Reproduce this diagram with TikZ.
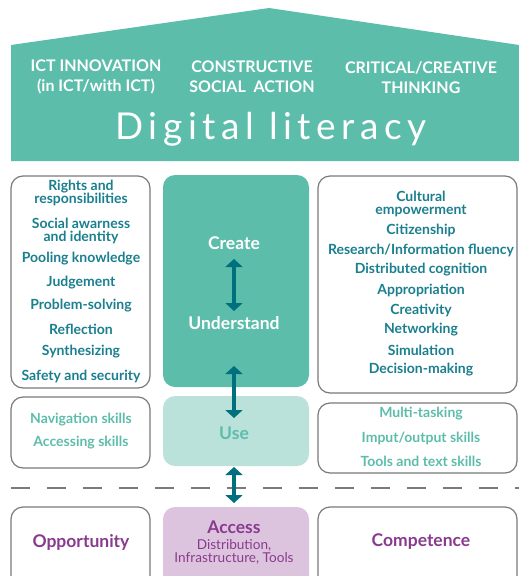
\documentclass[tikz,border=0pt]{standalone}
\usepackage{fontspec}
\setmainfont{Lato}
\usetikzlibrary{arrows.meta}
\definecolor{teal1}{HTML}{5DBDAB}
\definecolor{tealL}{HTML}{BAE2DA}
\definecolor{tealT}{HTML}{1A7F8E}
\definecolor{arr}{HTML}{00707F}
\definecolor{purpB}{HTML}{DCC4DE}
\definecolor{purpT}{HTML}{8A3A8E}
\definecolor{bord}{HTML}{7A7A7A}
\tikzset{
  wbox/.style={draw=bord, line width=1.2pt, rounded corners=12pt, fill=white},
  tbox/.style={fill=teal1, rounded corners=12pt},
  lbox/.style={fill=tealL, rounded corners=12pt},
  pbox/.style={fill=purpB, rounded corners=12pt},
  item/.style={text=tealT, font=\bfseries\fontsize{14}{13}\selectfont, align=center, inner sep=0pt},
  litem/.style={text=teal1, font=\bfseries\fontsize{14}{13}\selectfont, align=center, inner sep=0pt},
  head/.style={text=white, font=\bfseries\fontsize{16}{20}\selectfont, align=center, inner sep=0pt},
  big/.style={text=white, font=\fontsize{17.5}{19}\selectfont\bfseries, align=center, inner sep=0pt},
  pitem/.style={text=purpT, font=\bfseries\fontsize{17.5}{19}\selectfont, align=center, inner sep=0pt},
  darr/.style={arr, line width=4pt, {Triangle[width=17pt,length=8pt]}-{Triangle[width=17pt,length=8pt]}},
}
\begin{document}
\begin{tikzpicture}[x=1pt,y=-1pt]
\clip (0,0) rectangle (519,576);
\fill[white] (0,0) rectangle (519,576);
% roof
\fill[teal1] (11,45) -- (269,8) -- (519,45) -- (519,161) -- (11,161) -- cycle;
\node[head] (h1) at (96,77) {ICT INNOVATION\\(in ICT/with ICT)};
\node[head] (h2) at (252,77) {CONSTRUCTIVE\\SOCIAL\ \ ACTION};
\node[head] (h3) at (421,78) {CRITICAL/CREATIVE\\THINKING};
\node[text=white, inner sep=0pt, font=\fontsize{37}{40}\selectfont\addfontfeatures{LetterSpace=15}] (dl) at (271,129) {Digital literacy};
% top row
\draw[wbox] (11,176) rectangle (150,388);
\fill[tbox] (163,175) rectangle (309,387);
\draw[wbox] (318,176) rectangle (517,393);
% middle row
\draw[wbox] (11,397) rectangle (150,468);
\fill[lbox] (163,396) rectangle (309,466);
\draw[wbox] (318,403) rectangle (517,473);
% dashed line
\draw[bord, line width=1.2pt, dash pattern=on 19pt off 17pt] (11,488) -- (519,488);
% bottom row
\draw[wbox] (11,507) rectangle (150,600);
\fill[pbox] (163,507) rectangle (309,600);
\draw[wbox] (318,507) rectangle (517,600);
% left list
\node[item] (l1) at (81,192.5) {Rights and\\responsibilities};
\node[item] (l2) at (81,230.5) {Social awarness\\and identity};
\node[item] (l3) at (81,259) {Pooling knowledge};
\node[item] (l4) at (81,283) {Judgement};
\node[item] (l5) at (81,306) {Problem-solving};
\node[item] (l6) at (81,329) {Reflection};
\node[item] (l7) at (81,352) {Synthesizing};
\node[item] (l8) at (81,376) {Safety and security};
% right list
\node[item] (r1) at (421,204) {Cultural\\empowerment};
\node[item] (r2) at (421,230) {Citizenship};
\node[item] (r3) at (421,250) {Research/Information fluency};
\node[item] (r4) at (421,270) {Distributed cognition};
\node[item] (r5) at (421,290) {Appropriation};
\node[item] (r6) at (421,310) {Creativity};
\node[item] (r7) at (421,330) {Networking};
\node[item] (r8) at (421,350) {Simulation};
\node[item] (r9) at (421,370) {Decision-making};
% center
\node[big] (cr) at (234,243) {Create};
\node[big] (un) at (234,323) {Understand};
\node[big, text=teal1] (use) at (234,433) {Use};
\node[pitem] (acc) at (234,527) {Access};
\node[text=purpT, font=\fontsize{13.6}{13}\selectfont, align=center, inner sep=0pt] (acc2) at (234,551.5) {Distribution,\\Infrastructure, Tools};
% middle lists
\node[litem] (m1) at (81,420) {Navigation skills};
\node[litem] (m2) at (81,443) {Accessing skills};
\node[litem] (n1) at (421,414) {Multi-tasking};
\node[litem] (n2) at (421,438) {Imput/output skills};
\node[litem] (n3) at (421,461) {Tools and text skills};
% bottom
\node[pitem] (op) at (81,542) {Opportunity};
\node[pitem] (co) at (421,542) {Competence};
% arrows
\coordinate (a1) at (234,259);
\coordinate (a2) at (234,311);
\coordinate (b1) at (234,366);
\coordinate (b2) at (234,418);
\coordinate (c1) at (234,467);
\coordinate (c2) at (234,503);
\draw[darr] (a1) -- (a2);
\draw[darr] (b1) -- (b2);
\draw[darr] (c1) -- (c2);
\end{tikzpicture}
\end{document}
